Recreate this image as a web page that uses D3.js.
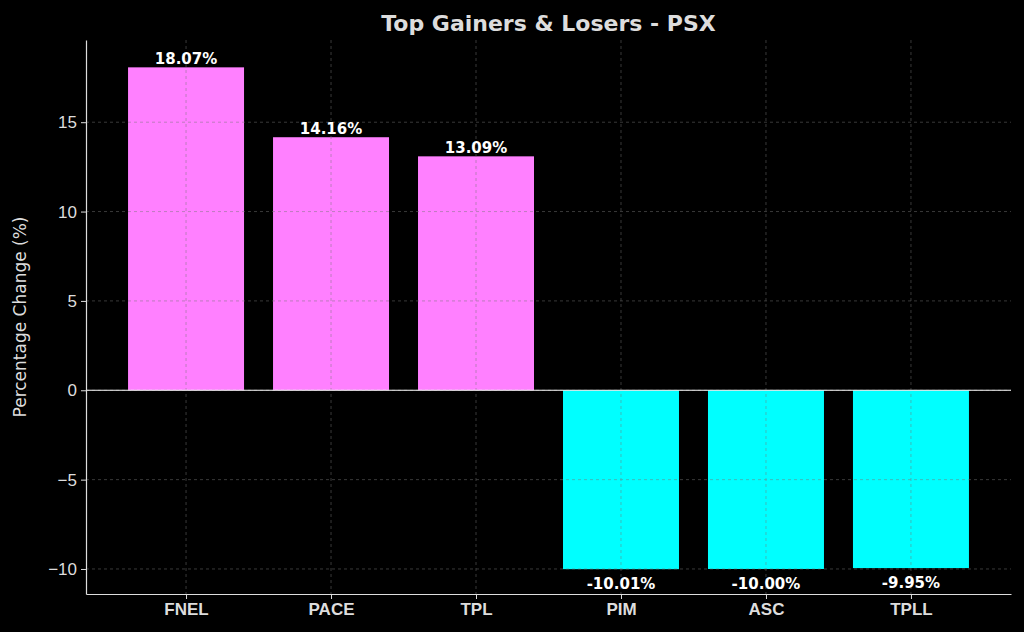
<!DOCTYPE html>
<html>
<head>
<meta charset="utf-8">
<script src="https://d3js.org/d3.v7.min.js"></script>
<style>
  body { margin: 0; background: #000; font-family: "DejaVu Sans", sans-serif; }
</style>
</head>
<body>
<svg id="chart" width="1024" height="632"></svg>
<script>
var tickers = ["FNEL", "PACE", "TPL", "PIM", "ASC", "TPLL"];
var changes = [18.07, 14.16, 13.09, -10.01, -10.00, -9.95];
var yTicks = [-10, -5, 0, 5, 10, 15];

var plotLeft = 86, plotRight = 1011, plotTop = 40, plotBottom = 594;
var svg = d3.select("#chart");
svg.append("rect").attr("width", 1024).attr("height", 632).attr("fill", "#000");

var x = d3.scaleLinear().domain([-0.69, 5.69]).range([plotLeft, plotRight]);
var y = d3.scaleLinear().domain([-11.4, 19.6]).range([plotBottom, plotTop]);
var barW = x(0.4) - x(-0.4);

// bars
svg.selectAll("rect.bar").data(changes).enter().append("rect")
  .attr("class", "bar")
  .attr("x", function(d, i) { return x(i) - barW / 2; })
  .attr("y", function(d) { return y(Math.max(0, d)); })
  .attr("width", barW)
  .attr("height", function(d) { return Math.abs(y(d) - y(0)); })
  .attr("fill", function(d) { return d >= 0 ? "#ff80ff" : "#00ffff"; });

// grid
var grid = svg.append("g").attr("stroke", "#777").attr("stroke-width", 0.8)
  .attr("stroke-dasharray", "3,3").attr("opacity", 0.6);
yTicks.forEach(function(t) {
  grid.append("line").attr("x1", plotLeft).attr("x2", plotRight).attr("y1", y(t)).attr("y2", y(t));
});
tickers.forEach(function(t, i) {
  grid.append("line").attr("x1", x(i)).attr("x2", x(i)).attr("y1", plotTop).attr("y2", plotBottom);
});

// zero line
svg.append("line").attr("x1", plotLeft).attr("x2", plotRight).attr("y1", y(0)).attr("y2", y(0))
  .attr("stroke", "#fff").attr("stroke-width", 1.2);

// axes
var yAxis = svg.append("g").attr("transform", "translate(" + plotLeft + ",0)")
  .call(d3.axisLeft(y).tickValues(yTicks).tickSize(5).tickSizeOuter(0)
    .tickFormat(function(d) { return d < 0 ? "\u2212" + (-d) : d; }));
var xAxis = svg.append("g").attr("transform", "translate(0," + plotBottom + ")")
  .call(d3.axisBottom(x).tickValues(d3.range(tickers.length)).tickSize(5).tickSizeOuter(0)
    .tickFormat(function(i) { return tickers[i]; }));
[xAxis, yAxis].forEach(function(a) {
  a.select(".domain").attr("stroke", "#ddd").attr("stroke-width", 1.2);
  a.selectAll(".tick line").attr("stroke", "#ddd");
  a.selectAll("text").attr("fill", "#ddd").style("font-size", "17px");
});
yAxis.selectAll("text").attr("x", -9);
xAxis.selectAll("text").attr("y", 9).style("font-weight", "bold");

// value labels
svg.selectAll("text.val").data(changes).enter().append("text")
  .attr("class", "val")
  .attr("x", function(d, i) { return x(i); })
  .attr("y", function(d) { return d >= 0 ? y(d) - 3 : y(d) + 20; })
  .attr("text-anchor", "middle")
  .attr("fill", "#fff").style("font-size", "15px").style("font-weight", "bold")
  .text(function(d) { return d.toFixed(2) + "%"; });

// titles
svg.append("text").attr("x", (plotLeft + plotRight) / 2).attr("y", 31).attr("text-anchor", "middle")
  .attr("fill", "#ddd").style("font-size", "22px").style("font-weight", "bold")
  .text("Top Gainers & Losers - PSX");
svg.append("text").attr("transform", "translate(26," + ((plotTop + plotBottom) / 2) + ") rotate(-90)")
  .attr("text-anchor", "middle").attr("fill", "#ddd").style("font-size", "17px")
  .text("Percentage Change (%)");
</script>
</body>
</html>
